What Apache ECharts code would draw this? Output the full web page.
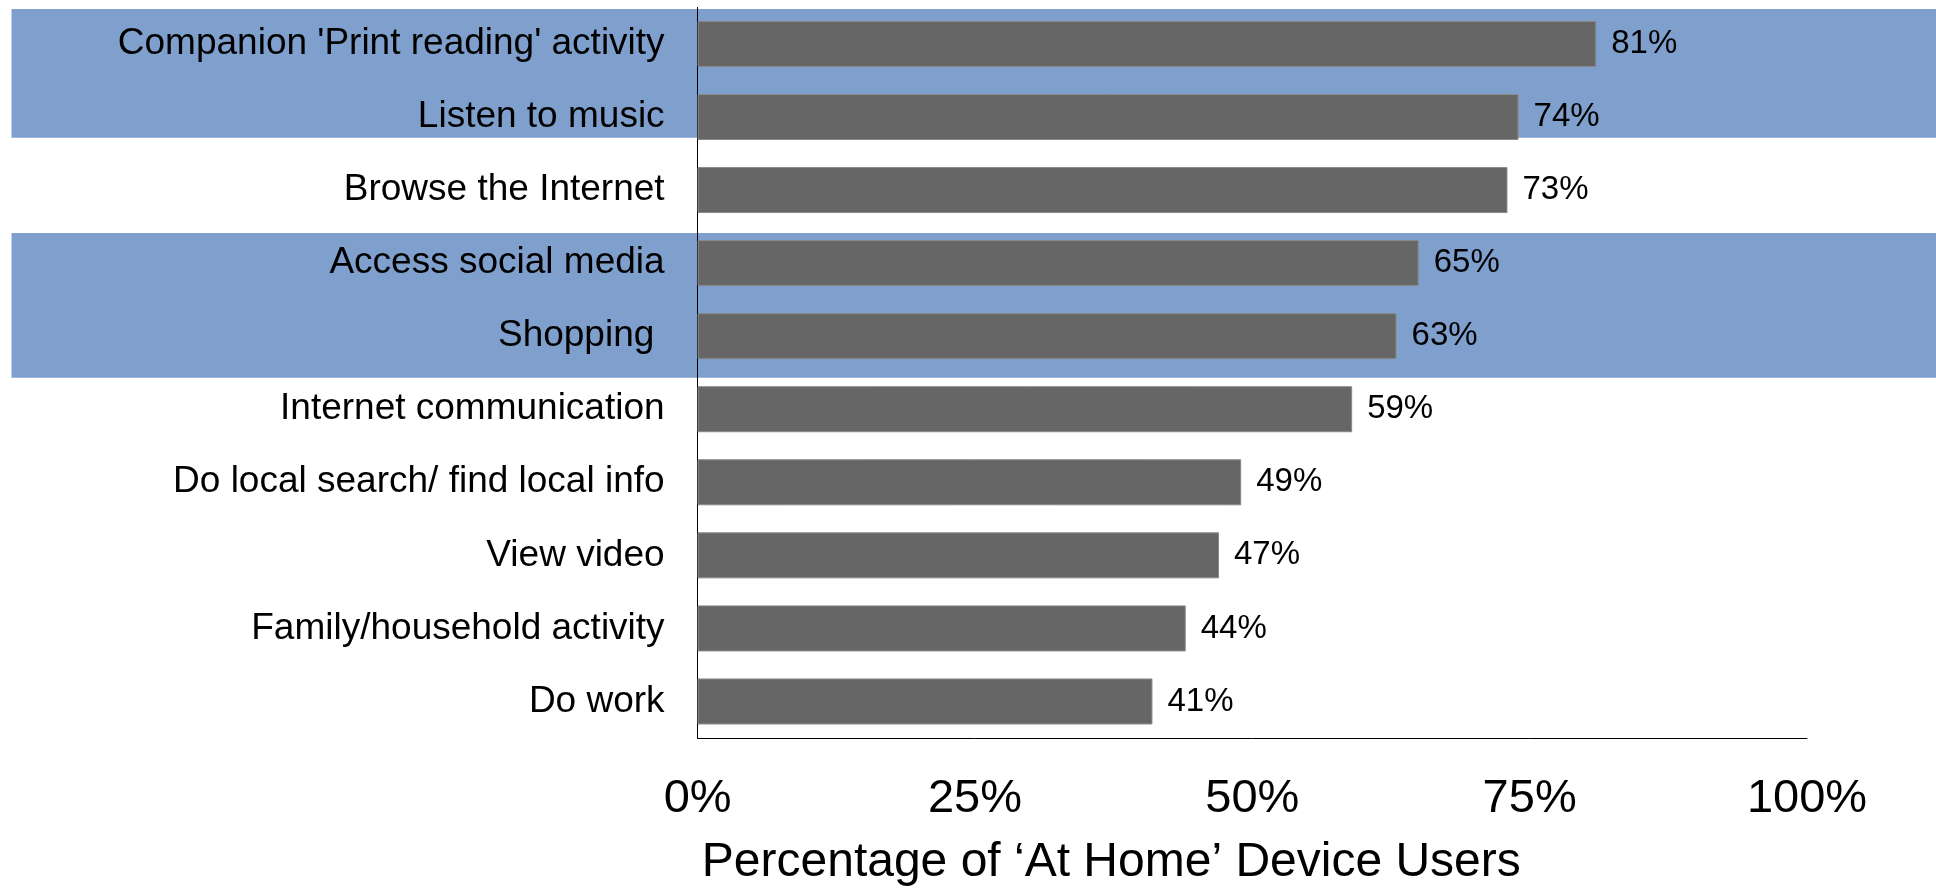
<!DOCTYPE html>
<html>
<head>
<meta charset="utf-8">
<title>At Home device activities</title>
<script src="https://cdn.jsdelivr.net/npm/echarts@6/dist/echarts.min.js"></script>
<style>
  html, body { margin: 0; padding: 0; background: #ffffff; }
  #chart { width: 1936px; height: 892px; }
</style>
</head>
<body>
<div id="chart"></div>
<script>
// Activities, top to bottom
const categories = [
  "Companion 'Print reading' activity",
  'Listen to music',
  'Browse the Internet',
  'Access social media',
  'Shopping ',
  'Internet communication',
  'Do local search/ find local info',
  'View video',
  'Family/household activity',
  'Do work'
];

// Share of 'At Home' device users doing each activity (%)
const shares = [81, 74, 73, 65, 63, 59, 49, 47, 44, 41];

// Value axis ticks
const tickValues = [0, 25, 50, 75, 100];

const axisName = 'Percentage of \u2018At Home\u2019 Device Users';

const chart = echarts.init(document.getElementById('chart'), null, { renderer: 'canvas' });

const option = {
  animation: false,
  backgroundColor: '#ffffff',
  grid: {
    left: 697.6,
    right: 129,
    top: 7.4,
    bottom: 153,
    containLabel: false
  },
  // Highlighted row groups behind the bars
  graphic: [
    {
      type: 'rect', z: -10, silent: true,
      shape: { x: 11.5, y: 9, width: 1924.5, height: 128.7 },
      style: { fill: '#7f9fcd' }
    },
    {
      type: 'rect', z: -10, silent: true,
      shape: { x: 11.5, y: 233, width: 1924.5, height: 144.7 },
      style: { fill: '#7f9fcd' }
    }
  ],
  xAxis: {
    type: 'value',
    min: tickValues[0],
    max: tickValues[tickValues.length - 1],
    interval: 25,
    splitLine: { show: false },
    axisTick: { show: false },
    axisLine: { show: true, lineStyle: { color: '#000000', width: 1 } },
    axisLabel: {
      show: true,
      margin: 38,
      color: '#000000',
      fontFamily: '"Liberation Sans", Arial, sans-serif',
      fontSize: 47,
      formatter: v => v + '%'
    },
    name: axisName,
    nameLocation: 'middle',
    nameGap: 101,
    nameTextStyle: {
      color: '#000000',
      fontFamily: '"Liberation Sans", Arial, sans-serif',
      fontSize: 48,
      padding: [0, 282, 0, 0]
    }
  },
  yAxis: {
    type: 'category',
    data: categories,
    inverse: true,
    axisTick: { show: false },
    axisLine: { show: true, onZero: false, lineStyle: { color: '#000000', width: 1 } },
    axisLabel: {
      margin: 33,
      color: '#000000',
      fontFamily: '"Liberation Sans", Arial, sans-serif',
      fontSize: 37
    }
  },
  series: [
    {
      type: 'bar',
      data: shares,
      barCategoryGap: '37%',
      itemStyle: {
        color: '#666666',
        borderColor: '#8a8a8a',
        borderWidth: 1
      },
      label: {
        show: true,
        position: 'right',
        distance: 15,
        color: '#000000',
        fontFamily: '"Liberation Sans Narrow", "Arial Narrow", "Liberation Sans", sans-serif',
        fontSize: 33,
        formatter: p => p.value + '%'
      }
    }
  ]
};

chart.setOption(option);
</script>
</body>
</html>
